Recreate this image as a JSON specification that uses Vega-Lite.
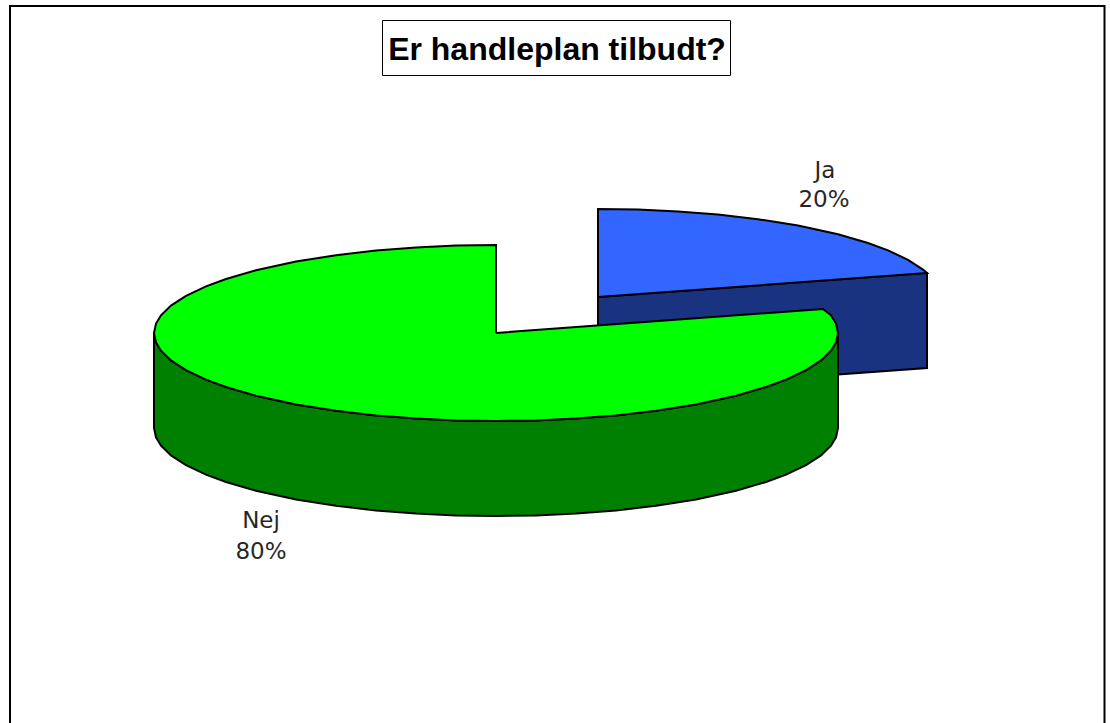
{"$schema":"https://vega.github.io/schema/vega-lite/v6.json","width":1110,"height":723,"padding":0,"autosize":"none","background":"white","view":{"stroke":null},
"datasets":{
"frame":[{"x":10,"y":6,"x2":1104.5,"y2":740}],
"titlebox":[{"x":382.5,"y":20.5,"x2":730.5,"y2":75.5}],
"title":[{"x":557,"y":49.5,"t":"Er handleplan tilbudt?"}],
"labels":[{"x":825,"y":171,"t":"Ja"},{"x":824,"y":200,"t":"20%"},{"x":261,"y":521,"t":"Nej"},{"x":261,"y":552,"t":"80%"}],
"blueside":[{"o":1,"x":598,"y":297},{"o":2,"x":927,"y":273},{"o":3,"x":927,"y":368},{"o":4,"x":598,"y":392},{"o":5,"x":598,"y":297}],
"bluetop":[{"o":1,"x":598,"y":297},{"o":2,"x":598,"y":209},{"o":3,"x":638,"y":209.6},{"o":4,"x":678,"y":211.4},{"o":5,"x":718,"y":214.6},{"o":6,"x":758,"y":219.2},{"o":7,"x":798,"y":225.6},{"o":8,"x":838,"y":234.3},{"o":9,"x":868,"y":243},{"o":10,"x":888,"y":250.4},{"o":11,"x":908,"y":259.8},{"o":12,"x":923,"y":269.6},{"o":13,"x":927,"y":273},{"o":14,"x":598,"y":297}],
"greenside":[{"o":1,"x":154,"y":333},{"o":2,"x":156,"y":342.5},{"o":3,"x":161,"y":350.7},{"o":4,"x":171,"y":360.4},{"o":5,"x":186,"y":370.2},{"o":6,"x":206,"y":379.6},{"o":7,"x":226,"y":387},{"o":8,"x":256,"y":395.7},{"o":9,"x":296,"y":404.4},{"o":10,"x":336,"y":410.8},{"o":11,"x":376,"y":415.4},{"o":12,"x":416,"y":418.6},{"o":13,"x":456,"y":420.4},{"o":14,"x":496,"y":421},{"o":15,"x":536,"y":420.4},{"o":16,"x":576,"y":418.6},{"o":17,"x":616,"y":415.4},{"o":18,"x":656,"y":410.8},{"o":19,"x":696,"y":404.4},{"o":20,"x":736,"y":395.7},{"o":21,"x":766,"y":387},{"o":22,"x":786,"y":379.6},{"o":23,"x":806,"y":370.2},{"o":24,"x":821,"y":360.4},{"o":25,"x":831,"y":350.7},{"o":26,"x":836,"y":342.5},{"o":27,"x":838,"y":333},{"o":28,"x":838,"y":428},{"o":29,"x":836,"y":437.5},{"o":30,"x":831,"y":445.7},{"o":31,"x":821,"y":455.4},{"o":32,"x":806,"y":465.2},{"o":33,"x":786,"y":474.6},{"o":34,"x":766,"y":482},{"o":35,"x":736,"y":490.7},{"o":36,"x":696,"y":499.4},{"o":37,"x":656,"y":505.8},{"o":38,"x":616,"y":510.4},{"o":39,"x":576,"y":513.6},{"o":40,"x":536,"y":515.4},{"o":41,"x":496,"y":516},{"o":42,"x":456,"y":515.4},{"o":43,"x":416,"y":513.6},{"o":44,"x":376,"y":510.4},{"o":45,"x":336,"y":505.8},{"o":46,"x":296,"y":499.4},{"o":47,"x":256,"y":490.7},{"o":48,"x":226,"y":482},{"o":49,"x":206,"y":474.6},{"o":50,"x":186,"y":465.2},{"o":51,"x":171,"y":455.4},{"o":52,"x":161,"y":445.7},{"o":53,"x":156,"y":437.5},{"o":54,"x":154,"y":428},{"o":55,"x":154,"y":333}],
"greentop":[{"o":1,"x":496,"y":333},{"o":2,"x":496,"y":245},{"o":3,"x":456,"y":245.6},{"o":4,"x":416,"y":247.4},{"o":5,"x":376,"y":250.6},{"o":6,"x":336,"y":255.2},{"o":7,"x":296,"y":261.6},{"o":8,"x":256,"y":270.3},{"o":9,"x":226,"y":279},{"o":10,"x":206,"y":286.4},{"o":11,"x":186,"y":295.8},{"o":12,"x":171,"y":305.6},{"o":13,"x":161,"y":315.3},{"o":14,"x":156,"y":323.5},{"o":15,"x":154,"y":333},{"o":16,"x":156,"y":342.5},{"o":17,"x":161,"y":350.7},{"o":18,"x":171,"y":360.4},{"o":19,"x":186,"y":370.2},{"o":20,"x":206,"y":379.6},{"o":21,"x":226,"y":387},{"o":22,"x":256,"y":395.7},{"o":23,"x":296,"y":404.4},{"o":24,"x":336,"y":410.8},{"o":25,"x":376,"y":415.4},{"o":26,"x":416,"y":418.6},{"o":27,"x":456,"y":420.4},{"o":28,"x":496,"y":421},{"o":29,"x":536,"y":420.4},{"o":30,"x":576,"y":418.6},{"o":31,"x":616,"y":415.4},{"o":32,"x":656,"y":410.8},{"o":33,"x":696,"y":404.4},{"o":34,"x":736,"y":395.7},{"o":35,"x":766,"y":387},{"o":36,"x":786,"y":379.6},{"o":37,"x":806,"y":370.2},{"o":38,"x":821,"y":360.4},{"o":39,"x":831,"y":350.7},{"o":40,"x":836,"y":342.5},{"o":41,"x":838,"y":333},{"o":42,"x":836,"y":323.5},{"o":43,"x":831,"y":315.3},{"o":44,"x":823,"y":309},{"o":45,"x":496,"y":333}]
},
"encoding":{
"x":{"field":"x","type":"quantitative","scale":{"domain":[0,1110],"nice":false,"zero":false},"axis":null},
"y":{"field":"y","type":"quantitative","scale":{"domain":[723,0],"nice":false,"zero":false},"axis":null}},
"layer":[
{"data":{"name":"frame"},"mark":{"type":"rect","fill":"white","stroke":"black","strokeWidth":2},"encoding":{"x2":{"field":"x2"},"y2":{"field":"y2"}}},
{"data":{"name":"blueside"},"mark":{"type":"line","fill":"#1A3380","stroke":"black","strokeWidth":2,"strokeJoin":"miter"},"encoding":{"order":{"field":"o"}}},
{"data":{"name":"bluetop"},"mark":{"type":"line","fill":"#3366FF","stroke":"black","strokeWidth":2,"strokeJoin":"miter"},"encoding":{"order":{"field":"o"}}},
{"data":{"name":"greenside"},"mark":{"type":"line","fill":"#008000","stroke":"black","strokeWidth":2,"strokeJoin":"miter"},"encoding":{"order":{"field":"o"}}},
{"data":{"name":"greentop"},"mark":{"type":"line","fill":"#00FF00","stroke":"black","strokeWidth":2,"strokeJoin":"miter"},"encoding":{"order":{"field":"o"}}},
{"data":{"name":"titlebox"},"mark":{"type":"rect","fill":"white","stroke":"black","strokeWidth":1},"encoding":{"x2":{"field":"x2"},"y2":{"field":"y2"}}},
{"data":{"name":"title"},"mark":{"type":"text","font":"Liberation Sans","fontWeight":"bold","fontSize":32,"align":"center","baseline":"middle"},"encoding":{"text":{"field":"t"}}},
{"data":{"name":"labels"},"mark":{"type":"text","font":"DejaVu Sans","fontSize":23,"fontWeight":"normal","align":"center","baseline":"middle","opacity":0.85},"encoding":{"text":{"field":"t"}}}
]}
